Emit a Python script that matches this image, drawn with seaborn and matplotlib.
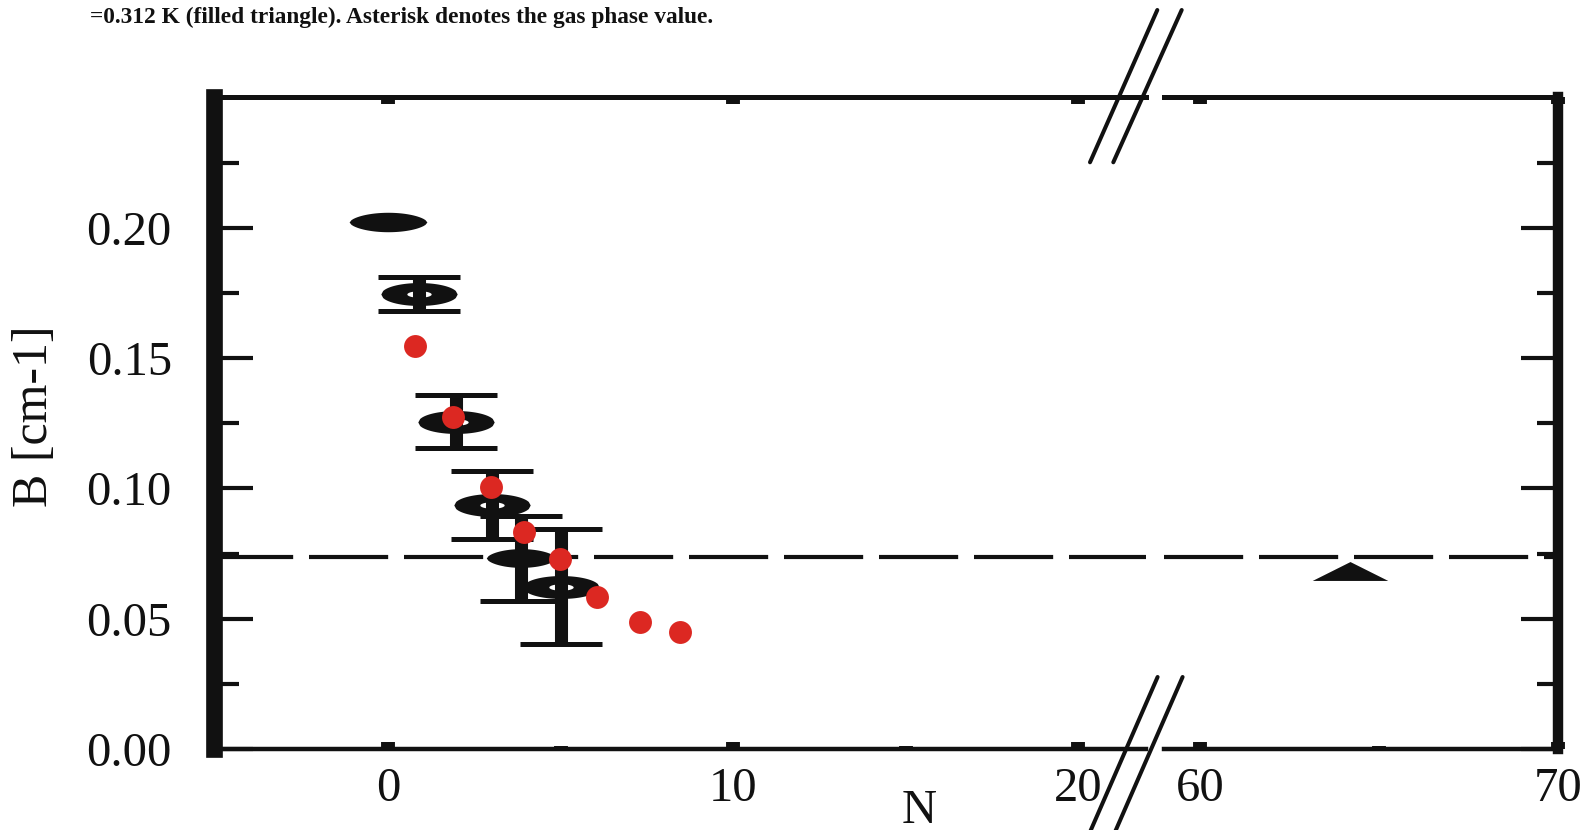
import matplotlib
matplotlib.use("Agg")
import matplotlib.pyplot as plt
from matplotlib.path import Path
from matplotlib.lines import Line2D
from matplotlib.ticker import FixedLocator, FormatStrFormatter
import seaborn as sns
import numpy as np

# ---------------- data ----------------
gas_N = [0.0]
gas_B = [0.2023]

filled_N = [3.85]
filled_B = [0.0732]
filled_err = [0.0163]

open_N = [0.9, 1.95, 3.0, 5.0]
open_B = [0.1745, 0.1256, 0.0936, 0.0623]
open_err = [0.0066, 0.0102, 0.013, 0.022]

red_N = [0.78, 1.86, 2.96, 3.94, 4.96, 6.05, 7.28, 8.46]
red_B = [0.1548, 0.1275, 0.1007, 0.0832, 0.0729, 0.0584, 0.0488, 0.045]

tri_N = [64.2]
tri_B = [0.0683]

ref_B = 0.0735

left_xticks = [0, 10, 20]
left_xminor = [5, 15]
right_xticks = [60, 70]
right_xminor = [65]
yticks = [0.00, 0.05, 0.10, 0.15, 0.20]
yminor = [0.025, 0.075, 0.125, 0.175, 0.225]

caption = "=0.312 K (filled triangle). Asterisk denotes the gas phase value."
xlabel = "N"
ylabel = "B [cm-1]"

# ---------------- style ----------------
sns.set_style("ticks")
plt.rcParams['font.family'] = ['Liberation Serif', 'DejaVu Serif']

W, H = 1596, 830
fig = plt.figure(figsize=(W / 100, H / 100), dpi=100)

def fx(px):
    return px / W

def fy(py):
    return 1 - py / H

ax1 = fig.add_axes([fx(213.5), fy(749), fx(1146) - fx(213.5), fy(97.5) - fy(749)])
ax2 = fig.add_axes([fx(1164), fy(749), fx(1558) - fx(1164), fy(97.5) - fy(749)])

ax1.set_xlim(-5.07, 21.96)
ax2.set_xlim(59.0, 70.0)
for ax in (ax1, ax2):
    ax.set_ylim(0, 0.25)

# ---------------- marker shapes ----------------
def lens(half_h, hole=None, expo=0.5):
    t = np.linspace(-1, 1, 41)
    top = half_h * (1 - t ** 2) ** expo
    xs = np.concatenate([t, t[::-1][1:]])
    ys = np.concatenate([top, -top[::-1][1:]])
    verts = list(zip(xs, ys))
    codes = [Path.MOVETO] + [Path.LINETO] * (len(verts) - 2) + [Path.CLOSEPOLY]
    if hole is not None:
        hw, hh = hole
        a = np.linspace(0, 2 * np.pi, 25)   # counter-clockwise -> hole
        hv = list(zip(hw * np.cos(a), hh * np.sin(a)))
        verts += hv
        codes += [Path.MOVETO] + [Path.LINETO] * (len(hv) - 2) + [Path.CLOSEPOLY]
    return Path(verts, codes)

open_marker = lens(0.30, hole=(0.32, 0.085))
gas_marker = lens(0.25, expo=0.6)
filled_marker = lens(0.27, expo=0.6)
tri_marker = Path([(-4, -1), (4, -1), (0, 1), (-4, -1)],
                  [Path.MOVETO, Path.LINETO, Path.LINETO, Path.CLOSEPOLY])

# reference (dashed) line
for ax in (ax1, ax2):
    ax.axhline(ref_B, color='#111111', lw=3, dashes=(19, 3.8), zorder=1)

# black data with error bars
ax1.errorbar(open_N, open_B, yerr=open_err, marker=open_marker, ms=55,
             mfc='#111111', mec='none', ls='none', ecolor='#111111',
             elinewidth=9.4, capsize=29.5, capthick=3.6, zorder=3)
ax1.errorbar(filled_N, filled_B, yerr=filled_err, marker=filled_marker, ms=50,
             mfc='#111111', mec='none', ls='none', ecolor='#111111',
             elinewidth=9.4, capsize=29.5, capthick=3.6, zorder=3)
ax1.plot(gas_N, gas_B, marker=gas_marker, ms=56, mfc='#111111', mec='none',
         ls='none', zorder=3)

# red dots
sns.scatterplot(x=red_N, y=red_B, ax=ax1, color='#dc2822', s=272,
                linewidth=0, zorder=5, legend=False)

# filled triangle
ax2.plot(tri_N, tri_B, marker=tri_marker, ms=54.4, mfc='#111111', mec='none',
         ls='none', zorder=3)

# ---------------- spines ----------------
ax1.spines['right'].set_visible(False)
ax1.spines['left'].set_linewidth(12)
ax1.spines['top'].set_linewidth(3.6)
ax1.spines['bottom'].set_linewidth(3.2)
ax2.spines['left'].set_visible(False)
ax2.spines['right'].set_linewidth(7.5)
ax2.spines['top'].set_linewidth(3.6)
ax2.spines['bottom'].set_linewidth(3.2)
for ax in (ax1, ax2):
    for s in ax.spines.values():
        s.set_color('#111111')

# ---------------- ticks ----------------
ax1.xaxis.set_major_locator(FixedLocator(left_xticks))
ax1.xaxis.set_minor_locator(FixedLocator(left_xminor))
ax2.xaxis.set_major_locator(FixedLocator(right_xticks))
ax2.xaxis.set_minor_locator(FixedLocator(right_xminor))
for ax in (ax1, ax2):
    ax.yaxis.set_major_locator(FixedLocator(yticks))
    ax.yaxis.set_minor_locator(FixedLocator(yminor))
    ax.tick_params(axis='x', which='major', direction='in', top=True, bottom=True,
                   length=5, width=10, color='#111111', labelsize=35, pad=13,
                   labelcolor='#111111')
    ax.tick_params(axis='x', which='minor', direction='in', top=True, bottom=True,
                   length=2.5, width=10, color='#111111')

ax1.yaxis.set_major_formatter(FormatStrFormatter('%.2f'))
ax1.tick_params(axis='y', which='major', direction='in', left=True, right=False,
                length=28, width=3, labelsize=35, pad=30, color='#111111',
                labelcolor='#111111')
ax1.tick_params(axis='y', which='minor', direction='in', left=True, right=False,
                length=18, width=3, color='#111111')
ax2.tick_params(axis='y', which='major', direction='in', left=False, right=True,
                labelleft=False, labelright=False, length=27, width=3,
                color='#111111')
ax2.tick_params(axis='y', which='minor', direction='in', left=False, right=True,
                length=15, width=3, color='#111111')

# ---------------- labels ----------------
ax1.set_xlabel(xlabel, fontsize=35, color='#111111')
ax1.xaxis.set_label_coords((919 - 213.5) / 932.5, (749 - 789) / 651.5)
ax1.set_ylabel(ylabel, fontsize=36, color='#111111')
ax1.yaxis.set_label_coords((58 - 213.5) / 932.5, (749 - 416) / 651.5)

fig.text(fx(90), fy(17), caption, fontsize=16.8, fontweight='bold',
         ha='left', va='center', color='#111111')

# ---------------- break marks ----------------
breaks = [((1090, 162.3), (1157.3, 10)), ((1113.3, 162.3), (1181.7, 10)),
          ((1090, 832), (1157.6, 677)), ((1115, 832), (1182.6, 677))]
for (x0, y0), (x1, y1) in breaks:
    fig.add_artist(Line2D([fx(x0), fx(x1)], [fy(y0), fy(y1)],
                          transform=fig.transFigure, color='#111111', lw=2.9))

fig.savefig("out.png", dpi=100)
